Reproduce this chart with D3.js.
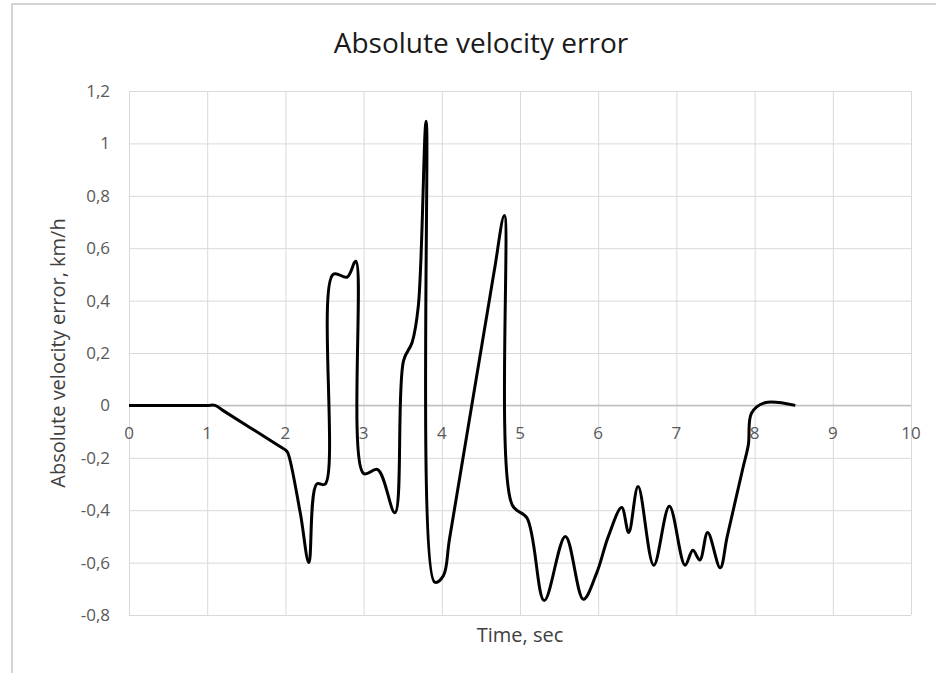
<!DOCTYPE html>
<html>
<head>
<meta charset="utf-8">
<script src="https://cdn.jsdelivr.net/npm/d3@7"></script>
<style>
  body { margin: 0; background: #fff; }
  text { font-family: "Open Sans", "Noto Sans", sans-serif; }
  .grid line { stroke: #d9d9d9; stroke-width: 1; }
  .grid .domain { display: none; }
  .tick-label { fill: #595959; font-size: 17px; }
</style>
</head>
<body>
<script>
// time, sec
const timeValues = [0, 1.0, 1.1, 1.2, 1.9, 2.0, 2.03, 2.19, 2.30, 2.40, 2.51, 2.61, 2.79, 2.90, 3.0, 3.18, 3.40,
  3.51, 3.62, 3.70, 3.80, 3.91, 4.02, 4.1, 4.6, 4.68, 4.80, 4.90, 5.09, 5.31, 5.58, 5.81, 5.98, 6.13,
  6.30, 6.39, 6.51, 6.71, 6.91, 7.11, 7.21, 7.30, 7.40, 7.56, 7.65, 7.85, 7.92, 7.96, 8.13, 8.52];
// absolute velocity error, km/h
const errorValues = [0, 0, 0, -0.019, -0.151, -0.17, -0.18, -0.41, -0.60, -0.30, -0.30, 0.50, 0.49, 0.55, -0.26, -0.245, -0.41,
  0.17, 0.24, 0.38, 1.085, -0.675, -0.65, -0.507, 0.387, 0.53, 0.725, -0.38, -0.43, -0.745, -0.50, -0.74, -0.64, -0.50,
  -0.39, -0.485, -0.31, -0.61, -0.385, -0.61, -0.553, -0.59, -0.485, -0.62, -0.50, -0.24, -0.15, -0.03, 0.01, 0];

const xTicks = [0, 1, 2, 3, 4, 5, 6, 7, 8, 9, 10];
const yTicks = [-0.8, -0.6, -0.4, -0.2, 0, 0.2, 0.4, 0.6, 0.8, 1, 1.2];

const data = timeValues.map((t, i) => ({ t: t, v: errorValues[i] }));

const W = 936, H = 673;
const margin = { top: 91, right: 25, bottom: 58, left: 129 },
    width = W - margin.left - margin.right,
    height = H - margin.top - margin.bottom;

const fmt = d3.formatLocale({ decimal: ",", thousands: " ", grouping: [3], currency: ["", ""], minus: "-" }).format("~g");

const x = d3.scaleLinear().domain([0, 10]).range([0, width]),
    y = d3.scaleLinear().domain([-0.8, 1.2]).range([height, 0]);

const root = d3.select("body").append("svg")
    .attr("width", W)
    .attr("height", H);

// chart border (top and left only visible)
root.append("path")
    .attr("d", "M12,673 L12,4 L936,4")
    .attr("fill", "none")
    .attr("stroke", "#d4d4d4")
    .attr("stroke-width", 2);

root.append("text")
    .attr("x", 481)
    .attr("y", 53)
    .attr("text-anchor", "middle")
    .attr("fill", "#1a1a1a")
    .style("font-size", "28px")
    .text("Absolute velocity error");

const svg = root.append("g")
    .attr("transform", "translate(" + margin.left + "," + margin.top + ")");

svg.append("g")
    .attr("class", "grid")
    .call(d3.axisLeft(y).tickValues(yTicks).tickSize(-width).tickFormat(""));

svg.append("g")
    .attr("class", "grid")
    .attr("transform", "translate(0," + height + ")")
    .call(d3.axisBottom(x).tickValues(xTicks).tickSize(-height).tickFormat(""));

// zero line
svg.append("line")
    .attr("x1", 0).attr("x2", width)
    .attr("y1", y(0)).attr("y2", y(0))
    .attr("stroke", "#bfbfbf")
    .attr("stroke-width", 1.5);

svg.append("g")
    .selectAll("text")
    .data(yTicks)
    .join("text")
    .attr("class", "tick-label")
    .attr("x", -19)
    .attr("y", d => y(d))
    .attr("dy", "0.35em")
    .attr("text-anchor", "end")
    .text(d => fmt(d));

svg.append("g")
    .selectAll("text")
    .data(xTicks)
    .join("text")
    .attr("class", "tick-label")
    .attr("x", d => x(d))
    .attr("y", y(0) + 28)
    .attr("dy", "0.35em")
    .attr("text-anchor", "middle")
    .text(d => fmt(d));

svg.append("path")
    .datum(data)
    .attr("fill", "none")
    .attr("stroke", "#000")
    .attr("stroke-width", 3)
    .attr("stroke-linejoin", "round")
    .attr("d", d3.line()
        .curve(d3.curveCatmullRom.alpha(0.5))
        .x(d => x(d.t))
        .y(d => y(d.v)));

root.append("text")
    .attr("x", margin.left + width / 2)
    .attr("y", 642)
    .attr("text-anchor", "middle")
    .attr("fill", "#404040")
    .style("font-size", "20px")
    .text("Time, sec");

root.append("text")
    .attr("transform", "translate(65," + (margin.top + height / 2) + ") rotate(-90)")
    .attr("text-anchor", "middle")
    .attr("fill", "#404040")
    .style("font-size", "20px")
    .text("Absolute velocity error, km/h");
</script>
</body>
</html>
